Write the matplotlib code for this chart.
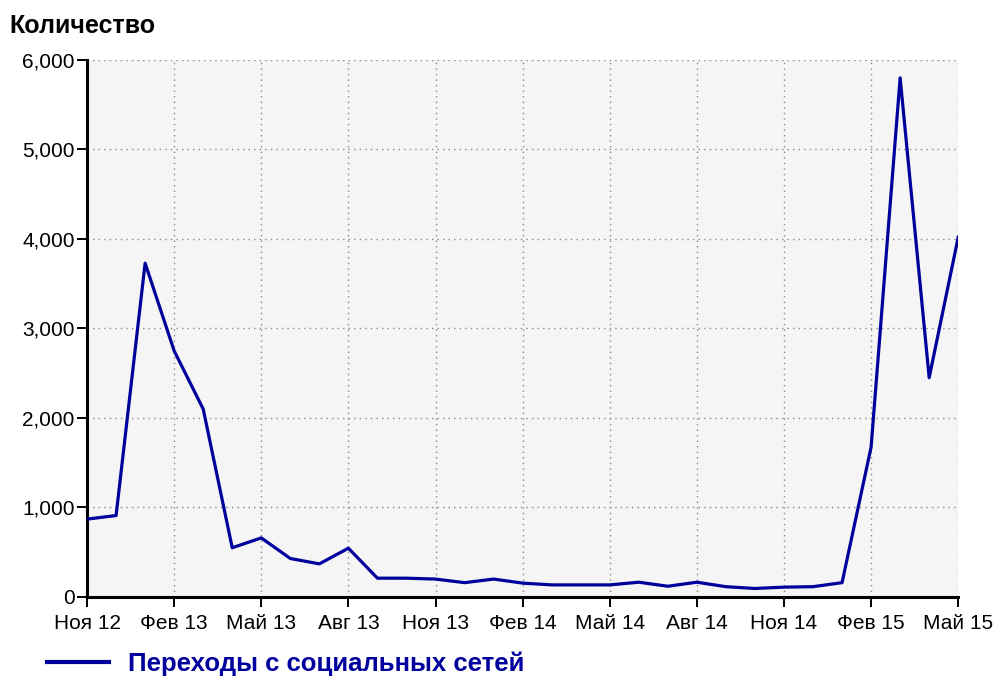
import matplotlib.pyplot as plt
import numpy as np
from matplotlib.ticker import FuncFormatter

# monthly values, Nov 2012 .. May 2015
months = ['Ноя 12', 'Дек 12', 'Янв 13', 'Фев 13', 'Мар 13', 'Апр 13', 'Май 13', 'Июн 13',
          'Июл 13', 'Авг 13', 'Сен 13', 'Окт 13', 'Ноя 13', 'Дек 13', 'Янв 14', 'Фев 14',
          'Мар 14', 'Апр 14', 'Май 14', 'Июн 14', 'Июл 14', 'Авг 14', 'Сен 14', 'Окт 14',
          'Ноя 14', 'Дек 14', 'Янв 15', 'Фев 15', 'Мар 15', 'Апр 15', 'Май 15']
values = [870, 910, 3730, 2750, 2100, 550, 660, 430, 370, 545, 210, 210,
          200, 160, 200, 155, 135, 135, 135, 165, 120, 165, 115, 95,
          110, 115, 160, 1675, 5800, 2450, 4020]
y_ticks = [0, 1000, 2000, 3000, 4000, 5000, 6000]
series_name = 'Переходы с социальных сетей'

plt.rcParams['font.family'] = ['Liberation Sans', 'DejaVu Sans']

fig = plt.figure(figsize=(9.97, 6.77), dpi=100)
ax = fig.add_axes([0.0873, 0.1182, 0.8738, 0.7932])
ax.set_facecolor('#f5f5f5')

x = np.arange(len(months))
ax.plot(x, values, color='#00009c', linewidth=2.3, label=series_name, zorder=3)

ax.set_xlim(0, len(months) - 1)
ax.set_ylim(0, 6000)
ax.set_xticks(x[::3])
ax.set_xticklabels(months[::3])
ax.set_yticks(y_ticks)
ax.yaxis.set_major_formatter(FuncFormatter(lambda v, p: f'{int(v):,}'))

ax.grid(True, linestyle=(0, (1, 3)), color='#888888', linewidth=1.0)
ax.set_axisbelow(True)

for s in ['top', 'right']:
    ax.spines[s].set_visible(False)
for s in ['left', 'bottom']:
    ax.spines[s].set_linewidth(2.2)
    ax.spines[s].set_color('black')

ax.tick_params(axis='both', labelsize=15, colors='black', width=1.4, direction='out')
ax.tick_params(axis='y', length=7, pad=2)
ax.tick_params(axis='x', length=7, pad=5)

fig.text(0.009, 0.961, 'Количество', fontsize=18, fontweight='bold', ha='left', va='center')

leg = fig.legend(loc='center left', bbox_to_anchor=(0.024, 0.019), frameon=False,
                 handlelength=2.4, fontsize=18.5, handletextpad=0.75)
for t in leg.get_texts():
    t.set_color('#00009c')
    t.set_fontweight('bold')
for h in leg.legend_handles:
    h.set_linewidth(3)

fig.savefig('out.png', dpi=100)
